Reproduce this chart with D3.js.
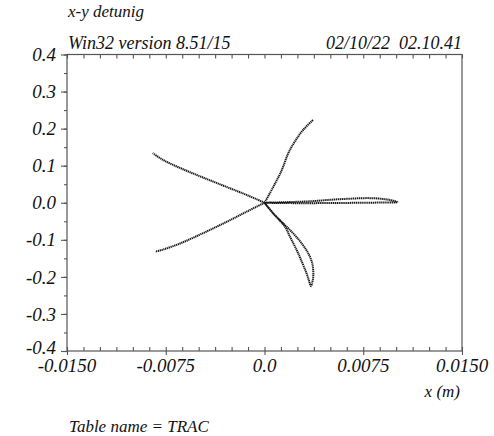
<!DOCTYPE html>
<html>
<head>
<meta charset="utf-8">
<script src="https://cdn.jsdelivr.net/npm/d3@7"></script>
<style>
  body { margin: 0; background: #fff; }
  text { font-family: "Liberation Serif", "DejaVu Serif", serif; font-style: italic; fill: #111; }
</style>
</head>
<body>
<div id="chart"></div>
<script>
// tracked particle arms, [x (m), y]
const armUpRight = [[0, 0], [0.00067, 0.043], [0.00131, 0.088], [0.00181, 0.134], [0.00232, 0.166], [0.00295, 0.197], [0.00371, 0.224]];
const armUpLeft = [[0, 0], [-0.00135, 0.021], [-0.00262, 0.039], [-0.00389, 0.057], [-0.00515, 0.075], [-0.00642, 0.094], [-0.00768, 0.115], [-0.00849, 0.134]];
const armDownLeft = [[0, 0], [-0.00135, -0.024], [-0.00262, -0.047], [-0.00389, -0.069], [-0.00515, -0.090], [-0.00642, -0.110], [-0.00768, -0.126], [-0.00831, -0.132]];
const loopRight = [[0, 0], [0.002, -0.001], [0.004, -0.001], [0.006, -0.0005], [0.008, 0.0002], [0.0095, 0.0008], [0.0101, 0.0015],
  [0.0096, 0.007], [0.0088, 0.011], [0.0078, 0.0125], [0.0065, 0.011], [0.005, 0.008], [0.0035, 0.004], [0.002, 0.002], [0, 0]];
const loopDown = [[0, 0], [0.00067, -0.029], [0.00143, -0.056], [0.00219, -0.083], [0.00283, -0.110], [0.00333, -0.137], [0.00363, -0.164],
  [0.00371, -0.195], [0.00361, -0.218], [0.00353, -0.225], [0.00340, -0.213], [0.00320, -0.191], [0.00283, -0.159],
  [0.00245, -0.128], [0.00194, -0.092], [0.00156, -0.065], [0.00067, -0.029], [0, 0]];
const curves = [armUpRight, armUpLeft, armDownLeft, loopRight, loopDown];

const xMajor = [-0.015, -0.0075, 0, 0.0075, 0.015];
const xLabels = ["-0.0150", "-0.0075", "0.0", "0.0075", "0.0150"];
const yMajor = [0.4, 0.3, 0.2, 0.1, 0.0, -0.1, -0.2, -0.3, -0.4];
const yLabels = ["0.4", "0.3", "0.2", "0.1", "0.0", "-0.1", "-0.2", "-0.3", "-0.4"];

const title = "x-y detunig";
const versionText = "Win32 version 8.51/15";
const stampText = "02/10/22  02.10.41";
const xTitle = "x (m)";
const footer = "Table name = TRAC";

const width = 494, height = 436;
const margin = {top: 54.5, right: 32, bottom: 85, left: 67};

const svg = d3.select("#chart").append("svg")
  .attr("width", width).attr("height", height);

const x = d3.scaleLinear().domain([-0.015, 0.015]).range([margin.left, width - margin.right]);
const y = d3.scaleLinear().domain([-0.4, 0.4]).range([height - margin.bottom, margin.top]);

const xMinor = d3.range(-12, 13).map(i => i * 0.00125);
const yMinor = d3.range(-8, 9).map(i => i * 0.05);

// frame
svg.append("rect")
  .attr("x", x(-0.015)).attr("y", y(0.4))
  .attr("width", x(0.015) - x(-0.015)).attr("height", y(-0.4) - y(0.4))
  .attr("fill", "none").attr("stroke", "#555").attr("stroke-width", 1.2);

const styleAxis = g => {
  g.select(".domain").remove();
  g.selectAll("line").attr("stroke", "#555").attr("stroke-width", 1.1);
  g.selectAll("text").remove();
};

// left: all ticks point outward
svg.append("g").attr("transform", `translate(${x(-0.015)},0)`)
  .call(d3.axisLeft(y).tickValues(yMinor).tickSize(3)).call(styleAxis);
svg.append("g").attr("transform", `translate(${x(-0.015)},0)`)
  .call(d3.axisLeft(y).tickValues(yMajor).tickSize(6)).call(styleAxis);

// bottom: minor inward, major crossing
svg.append("g").attr("transform", `translate(0,${y(-0.4)})`)
  .call(d3.axisBottom(x).tickValues(xMinor).tickSize(-4)).call(styleAxis);
svg.append("g").attr("transform", `translate(0,${y(-0.4)})`)
  .call(d3.axisBottom(x).tickValues(xMajor).tickSize(4)).call(styleAxis);

// top: inward
svg.append("g").attr("transform", `translate(0,${y(0.4)})`)
  .call(d3.axisTop(x).tickValues(xMinor).tickSize(-4)).call(styleAxis);

// tick labels (lowest one nudged up, as in the original)
svg.append("g").selectAll("text")
  .data(yMajor).enter().append("text")
  .attr("x", x(-0.015) - 11).attr("y", d => y(d) - (d === -0.4 ? 4 : 0))
  .attr("dy", "0.35em").attr("text-anchor", "end")
  .style("font-size", "19px")
  .text((d, i) => yLabels[i]);

svg.append("g").selectAll("text")
  .data(xMajor).enter().append("text")
  .attr("x", d => x(d)).attr("y", y(-0.4) + 21)
  .attr("text-anchor", "middle")
  .style("font-size", "19px")
  .text((d, i) => xLabels[i]);

// texts
svg.append("text").attr("x", 68).attr("y", 17).style("font-size", "17px").text(title);
svg.append("text").attr("x", 68).attr("y", 49).style("font-size", "18px").text(versionText);
svg.append("text").attr("x", x(0.015)).attr("y", 49).attr("text-anchor", "end")
  .style("font-size", "18px").style("white-space", "pre").text(stampText);
svg.append("text").attr("x", x(0.015) - 2).attr("y", 397).attr("text-anchor", "end")
  .style("font-size", "17px").text(xTitle);
svg.append("text").attr("x", 69).attr("y", 432).style("font-size", "17px").text(footer);

// trajectories
const line = d3.line()
  .x(d => x(d[0])).y(d => y(d[1]))
  .curve(d3.curveCatmullRom.alpha(0.5));

svg.append("g").selectAll("path")
  .data(curves).enter().append("path")
  .attr("d", line)
  .attr("fill", "none")
  .attr("stroke", "#1a1a1a")
  .attr("stroke-width", 2)
  .attr("stroke-dasharray", "1.3,0.6");
</script>
</body>
</html>
